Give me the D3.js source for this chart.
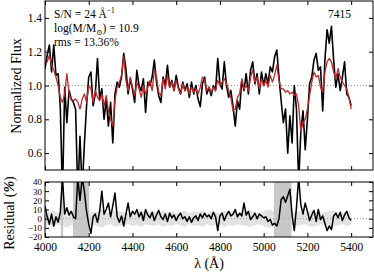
<!DOCTYPE html>
<html>
<head>
<meta charset="utf-8">
<script src="https://cdn.jsdelivr.net/npm/d3@7"></script>
<style>
  body { margin: 0; background: #fff; }
  svg text { font-family: "Liberation Serif", "DejaVu Serif", serif; fill: #000; }
  .tick line { stroke: #000; }
</style>
</head>
<body>
<div id="chart"></div>
<script>
// wavelength grid (Angstrom), 10 A steps
var lambdaStart = 4000, lambdaStep = 10;

// observed spectrum (black)
var fluxObs = [
  1.10, 1.18, 1.24, 1.08, 1.24, 1.06, 1.07, 0.87, 0.35, 0.99,
  0.78, 0.97, 0.92, 0.90, 0.86, 0.35, 0.70, 0.38, 0.65, 0.88,
  1.05, 1.08, 0.88, 0.95, 1.16, 0.92, 0.98, 0.80, 0.92, 0.76,
  0.90, 0.66, 0.95, 1.02, 0.99, 1.05, 1.19, 1.10, 0.95, 1.04,
  0.98, 0.90, 1.09, 1.00, 0.97, 1.04, 0.84, 1.02, 1.00, 1.05,
  1.15, 1.02, 0.94, 0.90, 1.05, 1.00, 1.12, 0.99, 1.03, 0.97,
  1.06, 0.99, 0.95, 1.02, 0.97, 1.01, 0.93, 1.02, 0.95, 1.00,
  0.92, 0.875, 1.01, 1.05, 0.95, 0.99, 0.94, 1.00, 0.97, 1.16,
  1.01, 0.98, 1.14, 1.00, 0.93, 0.97, 0.875, 0.76, 0.91, 0.86,
  1.03, 0.97, 1.07, 0.95, 1.09, 1.14, 1.01, 1.07, 0.95, 1.08,
  1.00, 1.07, 1.01, 1.11, 1.08, 1.17, 1.21, 1.05, 0.91, 0.78,
  0.86, 0.60, 0.82, 0.66, 1.00, 0.86, 0.42, 0.73, 0.85, 0.62,
  0.80, 1.01, 1.05, 1.15, 1.19, 1.09, 1.11, 0.85, 1.15, 1.33,
  1.25, 1.35, 1.15, 0.99, 1.07, 0.97, 1.05, 1.14, 0.95, 0.93,
  0.88
];

// best-fit model (red)
var fluxModel = [
  1.13, 1.14, 1.18, 1.12, 1.09, 1.05, 1.00, 0.93, 0.90, 0.95,
  1.07, 0.95, 0.92, 0.91, 0.92, 0.90, 0.86, 0.92, 0.95, 0.90,
  1.00, 0.98, 0.90, 0.97, 0.93, 0.91, 0.95, 0.88, 0.94, 0.85,
  0.80, 0.76, 0.91, 0.99, 1.02, 1.06, 1.17, 1.03, 0.97, 1.05,
  0.99, 0.94, 1.02, 0.98, 0.93, 1.00, 0.95, 0.99, 1.03, 0.97,
  1.09, 1.05, 0.96, 0.94, 1.04, 0.98, 1.06, 0.99, 1.02, 0.97,
  1.03, 0.98, 0.95, 1.01, 0.97, 0.99, 0.95, 0.99, 0.96, 0.98,
  0.95, 0.99, 1.05, 1.03, 0.97, 0.99, 0.96, 0.99, 0.97, 1.03,
  1.00, 1.02, 1.04, 1.01, 0.97, 0.93, 0.85, 0.86, 0.93, 0.95,
  1.04, 0.98, 1.00, 0.97, 1.05, 1.09, 1.02, 1.05, 0.98, 1.04,
  1.00, 1.03, 0.99, 1.06, 1.02, 1.06, 1.12, 1.03, 0.98, 0.98,
  0.96, 0.97, 0.95, 0.96, 0.94, 0.95, 0.88, 0.73, 0.78, 0.80,
  0.86, 0.94, 1.02, 1.08, 1.05, 1.06, 0.99, 0.96, 1.08, 1.14,
  1.16, 1.14, 1.08, 1.04, 1.10, 1.05, 1.02, 1.00, 0.98, 0.93,
  0.86
];

// residual in percent (bottom panel)
var residual = [
  14, 2, -6, 5, -8, 2, -4, 7, 45, 5,
  12, 4, 8, 2, 0, 45, 20, 45, 30, 8,
  -6, -16, 2, 5, -4, 8, 30, 5, 10, 17,
  2, 14, 28, 2, -4, 3, -8, 5, 17, 2,
  8, 5, 10, 2, 7, -2, 10, 4, 1, 7,
  -2, 4, 9, 2, -1, 5, -3, 6, 1, 4,
  -2, 3, 6, 0, 2, -3, 2, -4, 1, 3,
  -2, 5, 1, 6, 2, 4, 0, 7, 2, -13,
  3, 6, -2, 4, 8, 3, 5, 10, 2, 6,
  3, 17, 4, 8, -1, 2, 6, 0, 5, 3,
  1, 2, -3, -1, -7, -5, -8, 0, 21, 24,
  18, 25, 32, 4, -13, 12, 45, 15, 5, 17,
  8, -2, 4, 9, -3, 10, -1, 3, -5, -13,
  -8, -12, 3, 6, 1, 7, -2, 4, 8, 1,
  -2
];

// 1-sigma error band of the residual (20 A steps)
var errStep = 20;
var residualErr = [
  8, 7, 9, 6, 8, 10, 7, 9, 8, 6, 9, 7, 8, 10, 7, 6, 9, 8, 7, 6,
  8, 7, 9, 6, 7, 8, 6, 9, 7, 8, 6, 7, 9, 6, 8, 7, 9, 6, 8, 7,
  6, 9, 7, 8, 6, 7, 8, 9, 7, 6, 8, 10, 9, 7, 8, 6, 9, 7, 8, 6,
  7, 9, 8, 6, 7, 8, 9, 7, 6, 8, 7
];

// masked wavelength ranges
var maskStart = [4072, 4128, 5047];
var maskEnd = [4083, 4202, 5127];

// tick values
var xTicks = [4000, 4200, 4400, 4600, 4800, 5000, 5200, 5400];
var fluxTicks = [0.6, 0.8, 1.0, 1.2, 1.4];
var residTicks = [-20, -10, 0, 10, 20, 30, 40];

var svgWidth = 374;
var svgHeight = 273;

var margin = { left: 45, right: 1 };
var width = svgWidth - margin.left - margin.right;

var svg = d3.select("#chart")
  .append("svg")
  .attr("width", svgWidth)
  .attr("height", svgHeight);

var xScale = d3.scaleLinear()
  .domain([4000, 5500])
  .range([0, width]);

var yTop = d3.scaleLinear().domain([0.5, 1.5]).range([169, 0]);
var yBot = d3.scaleLinear().domain([-20, 40]).range([55, 0]);

var topGroup = svg.append("g").attr("transform", `translate(${margin.left}, 1)`);
var botGroup = svg.append("g").attr("transform", `translate(${margin.left}, 182)`);

// clip paths
svg.append("clipPath").attr("id", "clipTop")
  .append("rect").attr("width", width).attr("height", 169);
svg.append("clipPath").attr("id", "clipBot")
  .append("rect").attr("width", width).attr("height", 55);

var lam = fluxObs.map((d, i) => lambdaStart + i * lambdaStep);

// ---- top panel ----
var topPlot = topGroup.append("g").attr("clip-path", "url(#clipTop)");

topPlot.append("line")
  .attr("x1", 0).attr("x2", width)
  .attr("y1", yTop(1)).attr("y2", yTop(1))
  .attr("stroke", "#999").attr("stroke-width", 1)
  .attr("stroke-dasharray", "1,2");

var lineObs = d3.line()
  .x((d, i) => xScale(lam[i]))
  .y(d => yTop(d));

topPlot.append("path")
  .datum(fluxObs)
  .attr("d", lineObs)
  .attr("fill", "none")
  .attr("stroke", "#000")
  .attr("stroke-width", 1.6)
  .attr("stroke-linejoin", "round");

topPlot.append("path")
  .datum(fluxModel)
  .attr("d", lineObs)
  .attr("fill", "none")
  .attr("stroke", "#c0282c")
  .attr("stroke-width", 1.3)
  .attr("stroke-linejoin", "round");

// ---- bottom panel ----
var botPlot = botGroup.append("g").attr("clip-path", "url(#clipBot)");

// error band
var errLam = residualErr.map((d, i) => lambdaStart + i * errStep);
botPlot.append("path")
  .datum(residualErr)
  .attr("d", d3.area()
    .x((d, i) => xScale(errLam[i]))
    .y0(d => yBot(-d))
    .y1(d => yBot(d)))
  .attr("fill", "#e2e2e2");

// masked regions
botPlot.selectAll("rect.mask")
  .data(maskStart)
  .enter()
  .append("rect")
  .attr("class", "mask")
  .attr("x", d => xScale(d))
  .attr("width", (d, i) => xScale(maskEnd[i]) - xScale(d))
  .attr("y", 0)
  .attr("height", 55)
  .attr("fill", "#c8c8c8");

botPlot.append("line")
  .attr("x1", 0).attr("x2", width)
  .attr("y1", yBot(0)).attr("y2", yBot(0))
  .attr("stroke", "#999").attr("stroke-width", 1)
  .attr("stroke-dasharray", "1,2");

botPlot.append("path")
  .datum(residual)
  .attr("d", d3.line()
    .x((d, i) => xScale(lam[i]))
    .y(d => yBot(d)))
  .attr("fill", "none")
  .attr("stroke", "#000")
  .attr("stroke-width", 1.5)
  .attr("stroke-linejoin", "round");

// ---- axes ----
function drawAxes(g, yScale, h, yTickVals, yFmt, showX, yFont) {
  g.append("g")
    .attr("transform", `translate(0, ${h})`)
    .call(d3.axisBottom(xScale).tickValues(xTicks).tickSize(-4).tickPadding(6)
      .tickFormat(showX ? d3.format("d") : ""))
    .call(a => a.select(".domain").remove())
    .selectAll("text").style("font-size", "11.5px");

  g.append("g")
    .call(d3.axisTop(xScale).tickValues(xTicks).tickSize(-4).tickFormat(""))
    .call(a => a.select(".domain").remove());

  g.append("g")
    .call(d3.axisLeft(yScale).tickValues(yTickVals).tickSize(-4).tickPadding(3).tickFormat(yFmt))
    .call(a => a.select(".domain").remove())
    .selectAll("text").style("font-size", yFont);

  g.append("g")
    .attr("transform", `translate(${width}, 0)`)
    .call(d3.axisRight(yScale).tickValues(yTickVals).tickSize(-4).tickFormat(""))
    .call(a => a.select(".domain").remove());

  g.append("rect")
    .attr("width", width)
    .attr("height", h)
    .attr("fill", "none")
    .attr("stroke", "#000")
    .attr("stroke-width", 1);
}

drawAxes(topGroup, yTop, 169, fluxTicks, d3.format(".1f"), false, "11.5px");
drawAxes(botGroup, yBot, 55, residTicks, d3.format("d"), true, "9px");

// ---- labels ----
svg.append("text")
  .attr("transform", "translate(21, 86) rotate(-90)")
  .attr("text-anchor", "middle")
  .style("font-size", "14px")
  .text("Normalized Flux");

var resLabel = svg.append("text")
  .attr("transform", "translate(14, 213) rotate(-90)")
  .attr("text-anchor", "middle")
  .style("font-size", "14px");
resLabel.append("tspan").text("Residual (");
resLabel.append("tspan").style("font-style", "italic").style("font-weight", "bold").text("%");
resLabel.append("tspan").text(")");

svg.append("text")
  .attr("x", 209)
  .attr("y", 268)
  .attr("text-anchor", "middle")
  .style("font-size", "14px")
  .text("λ (Å)");

// ---- annotations ----
var ann = svg.append("g").style("font-size", "11.5px");
var t1 = ann.append("text").attr("x", 54).attr("y", 18);
t1.append("tspan").text("S/N = 24 Å");
t1.append("tspan").attr("dy", -5).style("font-size", "7.5px").text("−1");

var t2 = ann.append("text").attr("x", 54).attr("y", 32);
t2.append("tspan").text("log(M/M");
t2.append("tspan").attr("dy", 3).style("font-size", "7.5px").text("⊙");
t2.append("tspan").attr("dy", -3).text(") = 10.9");

ann.append("text").attr("x", 54).attr("y", 46).text("rms = 13.36%");

ann.append("text").attr("x", 351).attr("y", 18).attr("text-anchor", "end").text("7415");
</script>
</body>
</html>
